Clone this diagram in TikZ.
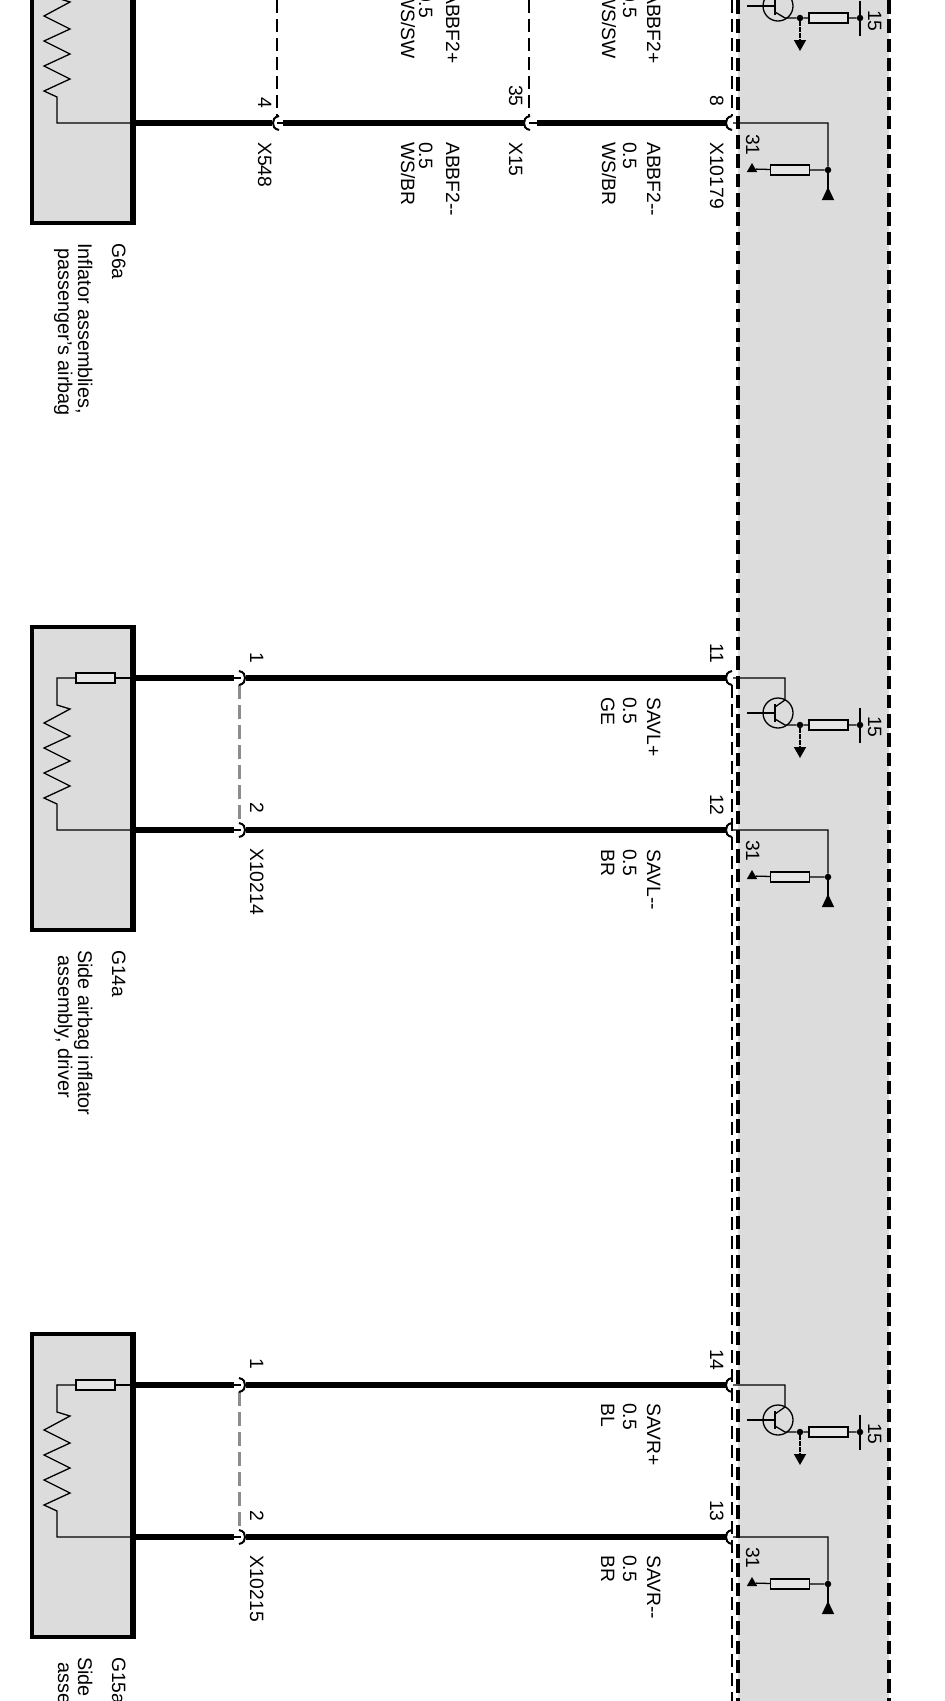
\documentclass[tikz,border=0pt]{standalone}
\usepackage{fontspec}
\setmainfont{Liberation Sans}
\usetikzlibrary{arrows.meta,shapes.geometric}
\definecolor{panelgrey}{HTML}{DCDCDC}
\definecolor{resgrey}{HTML}{E6E6E6}
\definecolor{shieldgrey}{HTML}{8C8C8C}
\tikzset{
	lbl/.style={rotate=-90,anchor=base west,inner sep=0pt,font=\fontsize{19.3}{22}\selectfont},
	desc/.style={lbl,font=\fontsize{19.8}{22}\selectfont},
	wirethick/.style={line width=6.5pt},
	wirethin/.style={line width=1.3pt},
	unitbox/.style={draw,line width=3.5pt,fill=panelgrey,minimum width=99.5pt,minimum height=303pt,inner sep=0pt},
	resbox/.style={draw,line width=1.4pt,fill=resgrey,minimum width=39pt,minimum height=10pt,inner sep=0pt},
	dotnode/.style={circle,fill=black,minimum size=6.5pt,inner sep=0pt},
	earthnode/.style={regular polygon,regular polygon sides=3,fill=black,minimum size=12pt,inner sep=0pt},
	panelline/.style={line width=4pt,dash pattern=on 13.5pt off 5.8pt},
	shieldline/.style={line width=1.3pt,dash pattern=on 13pt off 6pt},
	greyshield/.style={line width=3pt,color=shieldgrey,dash pattern=on 14pt off 6pt},
	pics/plug/.style={code={\draw[line width=2pt] (6,-7) .. controls (1,-6) and (0,-3) .. (0,0) .. controls (0,3) and (1,6) .. (6,7);}}
}
\begin{document}
\begin{tikzpicture}[x=1pt,y=-1pt]
	\useasboundingbox (0,0) rectangle (945,1701);
	\clip (0,0) rectangle (945,1701);
	\fill[panelgrey] (738,0) rectangle (889,1701);
	\coordinate (paneltopl) at (738,0);
	\coordinate (panelbotl) at (738,1701);
	\coordinate (paneltopr) at (889,0);
	\coordinate (panelbotr) at (889,1701);
	\draw[panelline] (paneltopl) -- (panelbotl);
	\draw[panelline] (paneltopr) -- (panelbotr);

	\foreach \m/\yw in {a/-29,b/678,c/1385}{
		% module on the left
		\node[unitbox] (unit\m) at (81.7,\yw+100.5) {};
		\draw[line width=5pt] (unit\m.north east) -- (unit\m.south east);
		\node[resbox] (fuse\m) at (95.5,\yw) {};
		\coordinate (upin\m) at (133,\yw);
		\coordinate (lpin\m) at (133,\yw+152);
		\draw[wirethin] (upin\m) -- (fuse\m);
		\draw[wirethin] (fuse\m) -- (57,\yw) -- (57,\yw+27) -- ++(13,4) -- ++(-26,14) -- ++(26,13) -- ++(-26,12) -- ++(26,13) -- ++(-26,12) -- ++(26,13) -- ++(-26,12) -- ++(13,6) -- (57,\yw+152) -- (lpin\m);
		% plus side in the panel
		\coordinate (uend\m) at (733,\yw);
		\coordinate (cbend\m) at (785,\yw);
		\coordinate (cin\m) at (775,\yw+29);
		\coordinate (ein\m) at (775,\yw+41);
		\coordinate (ebend\m) at (785,\yw+47);
		\coordinate (basefree\m) at (747,\yw+35);
		\coordinate (basein\m) at (775,\yw+35);
		\coordinate (bartop\m) at (775,\yw+26);
		\coordinate (barbot\m) at (775,\yw+44);
		\coordinate (arrowend\m) at (800,\yw+80);
		\coordinate (kltop\m) at (860,\yw+30);
		\coordinate (klbot\m) at (860,\yw+65);
		\node[circle,draw,line width=1.3pt,minimum size=30pt,inner sep=0pt] (trans\m) at (778,\yw+35) {};
		\node[dotnode] (edot\m) at (800,\yw+47) {};
		\node[resbox] (pull\m) at (828.5,\yw+47) {};
		\node[dotnode] (kldot\m) at (860,\yw+47) {};
		\draw[wirethin] (uend\m) -- (cbend\m) -- (785,\yw+22) -- (cin\m);
		\draw[wirethin] (basefree\m) -- (basein\m);
		\draw[line width=1.8pt] (bartop\m) -- (barbot\m);
		\draw[wirethin] (ein\m) -- (ebend\m) -- (edot\m) -- (pull\m) -- (kldot\m);
		\draw[wirethin] (kltop\m) -- (klbot\m);
		\draw[line width=1.6pt,dash pattern=on 5pt off 0.8pt,-{Triangle[width=12pt,length=11pt]}] (edot\m) -- (arrowend\m);
		% minus side in the panel
		\coordinate (lend\m) at (733,\yw+152);
		\coordinate (lbend\m) at (828,\yw+152);
		\coordinate (lfoot\m) at (828,\yw+229);
		\node[dotnode] (gdot\m) at (828,\yw+199) {};
		\node[resbox] (gres\m) at (790,\yw+199) {};
		\node[earthnode] (gnd\m) at (752,\yw+198) {};
		\draw[wirethin] (lend\m) -- (lbend\m) -- (gdot\m) -- (gres\m) -- (gnd\m);
		\draw[wirethin,-{Triangle[reversed,width=12pt,length=13pt]}] (gdot\m) -- (lfoot\m);
		% end plug
		\pic at (726,\yw) {plug};
		\pic at (726,\yw+152) {plug};
	}

	\foreach \m/\yw in {b/678,c/1385}{
		\coordinate (uplugl\m) at (234,\yw);
		\coordinate (uplugm\m) at (241,\yw);
		\coordinate (uplugr\m) at (246,\yw);
		\coordinate (uplugend\m) at (727,\yw);
		\coordinate (lplugl\m) at (234,\yw+152);
		\coordinate (lplugm\m) at (241,\yw+152);
		\coordinate (lplugr\m) at (246,\yw+152);
		\coordinate (lplugend\m) at (727,\yw+152);
		\coordinate (shtop\m) at (239,\yw+7);
		\coordinate (shbot\m) at (239,\yw+146);
		\draw[greyshield] (shtop\m) -- (shbot\m);
		\draw[wirethick] (upin\m) -- (uplugl\m);
		\draw[wirethin] (uplugl\m) -- (uplugm\m);
		\draw[wirethick] (uplugr\m) -- (uplugend\m);
		\draw[wirethick] (lpin\m) -- (lplugl\m);
		\draw[wirethin] (lplugl\m) -- (lplugm\m);
		\draw[wirethick] (lplugr\m) -- (lplugend\m);
		\pic[xscale=-1] at (245,\yw) {plug};
		\pic[xscale=-1] at (245,\yw+152) {plug};
	}

	\coordinate (xa1) at (272,123);
	\coordinate (xa2) at (283,123);
	\coordinate (xa3) at (277,123);
	\coordinate (xb1) at (524,123);
	\coordinate (xb2) at (537,123);
	\coordinate (xb3) at (529,123);
	\coordinate (xc1) at (727,123);
	\draw[wirethick] (lpina) -- (xa1);
	\draw[wirethin] (xa3) -- (xa2);
	\draw[wirethick] (xa2) -- (xb1);
	\draw[wirethin] (xb3) -- (xb2);
	\draw[wirethick] (xb2) -- (xc1);
	\pic at (273,123) {plug};
	\pic at (524,123) {plug};

	\coordinate (sha1) at (277,0);
	\coordinate (sha2) at (277,116);
	\coordinate (shb1) at (529,0);
	\coordinate (shb2) at (529,116);
	\coordinate (shc1) at (732,0);
	\coordinate (shc2) at (732,116);
	\coordinate (shd1) at (732,685);
	\coordinate (shd2) at (732,1701);
	\draw[shieldline] (sha1) -- (sha2);
	\draw[shieldline] (shb1) -- (shb2);
	\draw[shieldline] (shc1) -- (shc2);
	\draw[shieldline] (shd1) -- (shd2);

	\node[lbl] (ltop1) at (446,-9) {ABBF2+};
	\node[lbl] (ltop2) at (419,-9) {0.5};
	\node[lbl] (ltop3) at (401,-9) {WS/SW};
	\node[lbl] (ltop4) at (647,-9) {ABBF2+};
	\node[lbl] (ltop5) at (623,-9) {0.5};
	\node[lbl] (ltop6) at (602,-9) {WS/SW};
	\node[lbl] (lbot1) at (446,142) {ABBF2-{}-};
	\node[lbl] (lbot2) at (419,142) {0.5};
	\node[lbl] (lbot3) at (401,142) {WS/BR};
	\node[lbl] (lbot4) at (647,142) {ABBF2-{}-};
	\node[lbl] (lbot5) at (623,142) {0.5};
	\node[lbl] (lbot6) at (602,142) {WS/BR};
	\node[lbl] (pin4) at (258,97) {4};
	\node[lbl] (x548) at (258,142) {X548};
	\node[lbl] (pin35) at (509,85) {35};
	\node[lbl] (x15) at (509,142) {X15};
	\node[lbl] (pin8) at (710,95) {8};
	\node[lbl] (x10179) at (710,142) {X10179};
	\node[lbl] (g6a) at (112,243) {G6a};
	\node[desc] (g6b) at (78,243) {Inflator assemblies,};
	\node[desc] (g6c) at (58,248) {passenger’s airbag};

	\node[lbl] (pin11) at (710,643) {11};
	\node[lbl] (pin12) at (710,794) {12};
	\node[lbl] (savlp) at (647,697) {SAVL+};
	\node[lbl] (savlpa) at (623,697) {0.5};
	\node[lbl] (savlpb) at (601,697) {GE};
	\node[lbl] (savlm) at (647,849) {SAVL-{}-};
	\node[lbl] (savlma) at (623,849) {0.5};
	\node[lbl] (savlmb) at (601,849) {BR};
	\node[lbl] (pin1b) at (250,652) {1};
	\node[lbl] (pin2b) at (250,802) {2};
	\node[lbl] (x10214) at (250,848) {X10214};
	\node[lbl] (g14a) at (112,950) {G14a};
	\node[desc] (g14b) at (78,950) {Side airbag inflator};
	\node[desc] (g14c) at (58,955) {assembly, driver};

	\node[lbl] (pin14) at (710,1349) {14};
	\node[lbl] (pin13) at (710,1500) {13};
	\node[lbl] (savrp) at (647,1403) {SAVR+};
	\node[lbl] (savrpa) at (623,1403) {0.5};
	\node[lbl] (savrpb) at (601,1403) {BL};
	\node[lbl] (savrm) at (647,1555) {SAVR-{}-};
	\node[lbl] (savrma) at (623,1555) {0.5};
	\node[lbl] (savrmb) at (601,1555) {BR};
	\node[lbl] (pin1c) at (250,1358) {1};
	\node[lbl] (pin2c) at (250,1510) {2};
	\node[lbl] (x10215) at (250,1555) {X10215};
	\node[lbl] (g15a) at (112,1657) {G15a};
	\node[desc] (g15b) at (78,1657) {Side};
	\node[desc] (g15c) at (58,1662) {asse};

	\foreach \n/\y in {a/10,b/716,c/1423}{
		\node[lbl] (kl15\n) at (868,\y) {15};
	}
	\foreach \n/\y in {a/134,b/840,c/1547}{
		\node[lbl] (kl31\n) at (746,\y) {31};
	}
\end{tikzpicture}
\end{document}
